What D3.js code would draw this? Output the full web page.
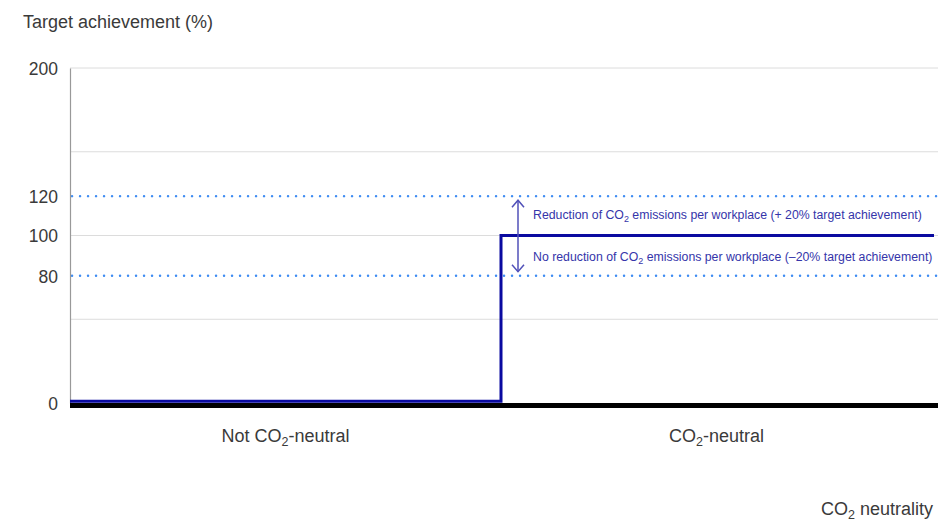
<!DOCTYPE html>
<html><head><meta charset="utf-8">
<script src="https://cdn.jsdelivr.net/npm/d3@7"></script>
<style>
html,body{margin:0;padding:0;background:#fff;}
text{font-family:"Liberation Sans",Arial,sans-serif;}
</style></head>
<body><svg id="c" width="938" height="524"></svg>
<script>
const categories = ["Not CO2-neutral", "CO2-neutral"];
const seriesValues = [1, 100];
const gridValues = [50, 100, 150, 200];
const tickValues = [0, 76, 100, 123.5, 200];
const tickLabels = ["0", "80", "100", "120", "200"];
const bandValues = [123.5, 76];
const annotations = [
  ["Reduction of CO", "2", " emissions per workplace (+ 20% target achievement)"],
  ["No reduction of CO", "2", " emissions per workplace (–20% target achievement)"]
];

(function () {
const svg = d3.select("#c");
const W = 938, mLeft = 70, mRight = 932, mTop = 68, mBottom = 403;
const x = d3.scaleBand().domain(categories).range([mLeft, mRight]).padding(0);
const y = d3.scaleLinear().domain([0, 200]).range([mBottom, mTop]);
const txt = "#3a3a3a";
const FF = "'Liberation Sans', Arial, sans-serif";

svg.append("g").selectAll("line").data(gridValues).join("line")
  .attr("x1", mLeft).attr("x2", W).attr("y1", d => y(d)).attr("y2", d => y(d))
  .attr("stroke", "#dcdcdc").attr("stroke-width", 1);

svg.append("g").selectAll("line").data(bandValues).join("line")
  .attr("x1", mLeft + 2).attr("x2", W).attr("y1", d => y(d)).attr("y2", d => y(d))
  .attr("stroke", "#3f8cf2").attr("stroke-width", 2.4)
  .attr("stroke-dasharray", "0.1 7.9").attr("stroke-linecap", "round");

const yAxis = d3.axisLeft(y).tickValues(tickValues).tickFormat((d, i) => tickLabels[i]).tickSize(0).tickPadding(12);
const ga = svg.append("g").attr("transform", `translate(${mLeft},0)`).call(yAxis);
ga.select(".domain").attr("stroke", "#999").attr("stroke-width", 1.2);
ga.selectAll("text").attr("font-size", 17.5).attr("fill", txt).attr("dy", "0.36em")
  .style("font-family", FF);

svg.append("line").attr("x1", mLeft).attr("x2", W).attr("y1", y(0) + 2.5).attr("y2", y(0) + 2.5)
  .attr("stroke", "#000").attr("stroke-width", 5);

const stepData = categories.map((c, i) => ({ c, v: seriesValues[i] }));
const pts = [];
stepData.forEach((d, i) => {
  pts.push([x(d.c), y(d.v)]);
  pts.push([i === stepData.length - 1 ? W - 4 : x(d.c) + x.bandwidth(), y(d.v)]);
});
svg.append("path").attr("d", d3.line()(pts)).attr("fill", "none")
  .attr("stroke", "#0a0aa0").attr("stroke-width", 3).attr("stroke-linejoin", "miter");

const ax = x(categories[1]) + 17;
const aTop = y(bandValues[0]) + 4, aBot = y(bandValues[1]) - 4;
const ac = "#5050b8";
svg.append("line").attr("x1", ax).attr("x2", ax).attr("y1", aTop).attr("y2", aBot)
  .attr("stroke", ac).attr("stroke-width", 1.5);
svg.append("path").attr("d", `M${ax - 6},${aTop + 7}L${ax},${aTop}L${ax + 6},${aTop + 7}`)
  .attr("fill", "none").attr("stroke", ac).attr("stroke-width", 1.5);
svg.append("path").attr("d", `M${ax - 6},${aBot - 7}L${ax},${aBot}L${ax + 6},${aBot - 7}`)
  .attr("fill", "none").attr("stroke", ac).attr("stroke-width", 1.5);

const annY = [y(bandValues[0]) + 23, y(100) + 25];
annotations.forEach((a, i) => {
  const t = svg.append("text").attr("x", ax + 15).attr("y", annY[i])
    .attr("font-size", 12.3).attr("fill", "#3535aa");
  t.append("tspan").text(a[0]);
  t.append("tspan").text(a[1]).attr("font-size", 9).attr("dy", 3);
  t.append("tspan").text(a[2]).attr("dy", -3);
});

function coLabel(sel, pre, post) {
  sel.append("tspan").text(pre);
  sel.append("tspan").text("2").attr("font-size", 12.5).attr("dy", 4);
  sel.append("tspan").text(post).attr("dy", -4);
}
const catParts = [["Not CO", "-neutral"], ["CO", "-neutral"]];
categories.forEach((c, i) => {
  const t = svg.append("text").attr("x", x(c) + x.bandwidth() / 2).attr("y", 442)
    .attr("text-anchor", "middle").attr("font-size", 18).attr("fill", txt);
  coLabel(t, catParts[i][0], catParts[i][1]);
});

svg.append("text").attr("x", 23).attr("y", 28).attr("font-size", 18).attr("fill", txt)
  .text("Target achievement (%)");
const xt = svg.append("text").attr("x", 933).attr("y", 515).attr("text-anchor", "end")
  .attr("font-size", 18).attr("fill", txt);
coLabel(xt, "CO", " neutrality");
})();
</script></body></html>
